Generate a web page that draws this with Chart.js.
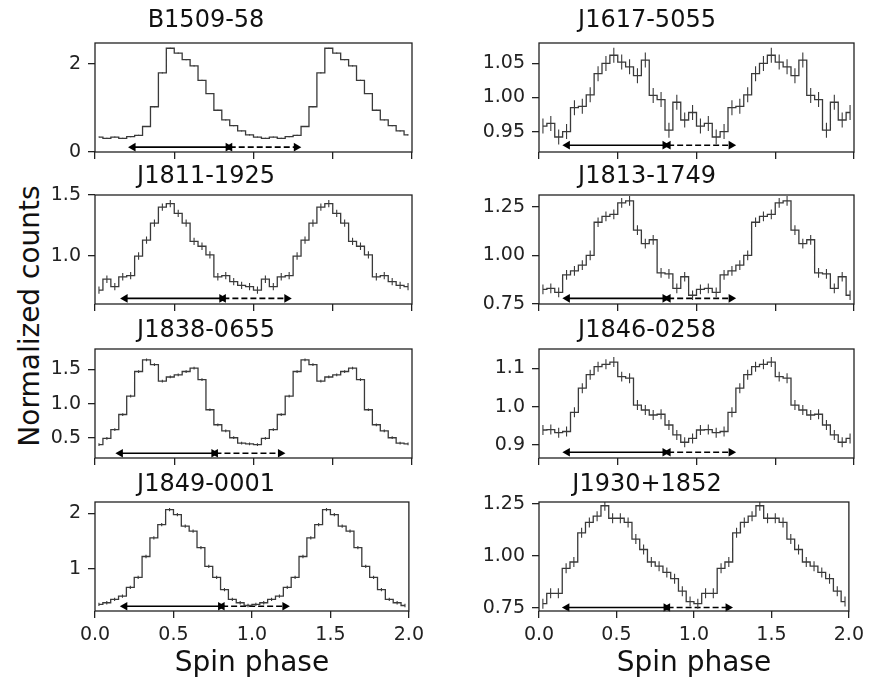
<!DOCTYPE html>
<html>
<head>
<meta charset="utf-8">
<script src="https://cdn.jsdelivr.net/npm/chart.js"></script>
<style>
body { margin: 0; background: #fff; }
#fig { position: relative; width: 874px; height: 684px; font-family: "DejaVu Sans"; }
.panel { position: absolute; }
#ylab { position: absolute; left: 29.5px; top: 316px; font-size: 28px; line-height: 28px; white-space: nowrap; color: #111;
        transform: translate(-50%, -50%) rotate(-90deg); }
</style>
</head>
<body>
<div id="fig">
  <div id="ylab">Normalized counts</div>
  <div class="panel" style="left:0;top:0;width:430px;height:172px"><canvas id="p0"></canvas></div>
  <div class="panel" style="left:440px;top:0;width:430px;height:172px"><canvas id="p1"></canvas></div>
  <div class="panel" style="left:0;top:152px;width:430px;height:172px"><canvas id="p2"></canvas></div>
  <div class="panel" style="left:440px;top:152px;width:430px;height:172px"><canvas id="p3"></canvas></div>
  <div class="panel" style="left:0;top:306px;width:430px;height:172px"><canvas id="p4"></canvas></div>
  <div class="panel" style="left:440px;top:306px;width:430px;height:172px"><canvas id="p5"></canvas></div>
  <div class="panel" style="left:0;top:459px;width:430px;height:225px"><canvas id="p6"></canvas></div>
  <div class="panel" style="left:440px;top:459px;width:430px;height:225px"><canvas id="p7"></canvas></div>
</div>
<script>
// pulsar names, one panel each
var names = ['B1509-58', 'J1617-5055', 'J1811-1925', 'J1813-1749',
             'J1838-0655', 'J1846-0258', 'J1849-0001', 'J1930+1852'];

// bin centres of one cycle (20 bins), shown twice
var phase = [0.025, 0.075, 0.125, 0.175, 0.225, 0.275, 0.325, 0.375, 0.425, 0.475,
             0.525, 0.575, 0.625, 0.675, 0.725, 0.775, 0.825, 0.875, 0.925, 0.975];

// normalized counts per bin
var profB1509 = [0.34, 0.31, 0.34, 0.31, 0.35, 0.38, 0.58, 1.03, 1.80, 2.36,
                 2.25, 2.10, 1.96, 1.63, 1.33, 0.95, 0.73, 0.60, 0.48, 0.39];
var profJ1617 = [0.958, 0.962, 0.942, 0.950, 0.985, 0.987, 1.004, 1.035, 1.050, 1.062,
                 1.052, 1.045, 1.032, 1.055, 1.003, 0.997, 0.952, 0.993, 0.967, 0.978];
var profJ1811 = [0.72, 0.81, 0.75, 0.83, 0.84, 1.00, 1.13, 1.27, 1.40, 1.43,
                 1.35, 1.27, 1.12, 1.08, 1.01, 0.83, 0.84, 0.79, 0.76, 0.75];
var profJ1813 = [0.825, 0.83, 0.81, 0.90, 0.92, 0.95, 1.00, 1.17, 1.20, 1.21,
                 1.27, 1.28, 1.13, 1.06, 1.08, 0.91, 0.905, 0.83, 0.89, 0.795];
var profJ1838 = [0.40, 0.49, 0.62, 0.84, 1.11, 1.47, 1.64, 1.57, 1.33, 1.39,
                 1.42, 1.47, 1.52, 1.35, 0.91, 0.69, 0.60, 0.50, 0.42, 0.41];
var profJ1846 = [0.939, 0.940, 0.932, 0.935, 0.985, 1.048, 1.083, 1.104, 1.110, 1.116,
                 1.078, 1.074, 1.004, 0.991, 0.978, 0.980, 0.952, 0.926, 0.907, 0.917];
var profJ1849 = [0.35, 0.38, 0.44, 0.50, 0.66, 0.84, 1.22, 1.56, 1.80, 2.07,
                 1.98, 1.77, 1.68, 1.38, 1.04, 0.84, 0.62, 0.44, 0.38, 0.33];
var profJ1930 = [0.77, 0.82, 0.82, 0.94, 0.97, 1.11, 1.16, 1.19, 1.24, 1.18,
                 1.18, 1.16, 1.08, 1.03, 0.97, 0.95, 0.92, 0.89, 0.83, 0.78];
var profiles = [profB1509, profJ1617, profJ1811, profJ1813, profJ1838, profJ1846, profJ1849, profJ1930];

// 1-sigma error per bin, per pulsar
var errs = [0.012, 0.011, 0.03, 0.025, 0.02, 0.013, 0.03, 0.024];

// axis ranges and ticks
var yMin = [0, 0.92, 0.607, 0.75, 0.203, 0.866, 0.23, 0.735];
var yMax = [2.48, 1.08, 1.5, 1.31, 1.80, 1.15, 2.21, 1.258];
var yTicks = [[0, 2], [0.95, 1.00, 1.05], [1.0, 1.5], [0.75, 1.00, 1.25],
              [0.5, 1.0, 1.5], [0.9, 1.0, 1.1], [1, 2], [0.75, 1.00, 1.25]];
var yDec = [0, 2, 1, 2, 1, 1, 0, 2];
var xTicks = [0, 0.5, 1.0, 1.5, 2.0];

// on-pulse (solid) and off-pulse (dashed) phase ranges
var onPulse  = [[0.24, 0.84], [0.18, 0.80], [0.19, 0.80], [0.18, 0.80],
                [0.16, 0.75], [0.18, 0.80], [0.19, 0.80], [0.18, 0.82]];
var offPulse = [[0.85, 1.27], [0.82, 1.22], [0.81, 1.21], [0.82, 1.22],
                [0.76, 1.17], [0.82, 1.22], [0.81, 1.21], [0.83, 1.22]];
var arrowY = [0.11, 0.930, 0.653, 0.779, 0.272, 0.881, 0.316, 0.752];

var FONT = 'DejaVu Sans';
var titleCentre = [21, 177, 331, 485];
var canvasTop = [0, 152, 306, 459];

var frame = {
    id: 'frame',
    afterDatasetsDraw: function(chart) {
        var a = chart.chartArea, ctx = chart.ctx;
        ctx.save();
        ctx.strokeStyle = '#222';
        ctx.lineWidth = 1.3;
        ctx.strokeRect(a.left, a.top, a.right - a.left, a.bottom - a.top);
        ctx.restore();
    }
};

function makePanel(i) {
    var row = Math.floor(i / 2), col = i % 2;
    var bottom = row === 3;
    var prof = profiles[i];
    var line = [], bars = [];
    for (var c = 0; c < 2; c++) {
        for (var k = 0; k < phase.length; k++) {
            var x = phase[k] + c;
            line.push({x: x, y: prof[k]});
            bars.push({x: x, y: prof[k] - errs[i]}, {x: x, y: prof[k] + errs[i]}, {x: x, y: null});
        }
    }
    var padTop = titleCentre[row] - canvasTop[row] - 14.4;
    var grid = {drawOnChartArea: false, drawTicks: true, tickLength: 7, color: '#222', lineWidth: 1.3};

    return new Chart(document.getElementById('p' + i), {
        type: 'line',
        data: {
            datasets: [{
                data: line,
                stepped: 'middle',
                borderColor: '#3a3a3a',
                borderWidth: 1.3,
                pointRadius: 0,
                fill: false
            }, {
                data: bars,
                borderColor: '#3a3a3a',
                borderWidth: 1.1,
                pointRadius: 0,
                spanGaps: false
            }, {
                data: [{x: onPulse[i][0], y: arrowY[i]}, {x: onPulse[i][1], y: arrowY[i]}],
                borderColor: '#000',
                borderWidth: 1.6,
                pointStyle: 'triangle',
                pointRadius: 5,
                pointBorderWidth: 0,
                pointBackgroundColor: '#000',
                pointRotation: [270, 90],
                clip: false
            }, {
                data: [{x: offPulse[i][0], y: arrowY[i]}, {x: offPulse[i][1], y: arrowY[i]}],
                borderColor: '#000',
                borderWidth: 1.6,
                borderDash: [6, 3],
                pointStyle: 'triangle',
                pointRadius: 5,
                pointBorderWidth: 0,
                pointBackgroundColor: '#000',
                pointRotation: [270, 90],
                clip: false
            }]
        },
        options: {
            responsive: true,
            maintainAspectRatio: false,
            animation: false,
            events: [],
            layout: {padding: {left: 0, right: col === 0 ? 18 : 16, top: 0, bottom: 0}},
            plugins: {
                legend: {display: false},
                tooltip: {enabled: false},
                title: {
                    display: true,
                    text: names[i],
                    color: '#111',
                    font: {family: FONT, size: 24, weight: 'normal', lineHeight: 1.2},
                    padding: {top: padTop, bottom: 43 - 28.8 - padTop}
                }
            },
            scales: {
                x: {
                    type: 'linear',
                    min: 0,
                    max: 2,
                    afterBuildTicks: function(s) { s.ticks = xTicks.map(function(v) { return {value: v}; }); },
                    afterFit: function(s) { s.height = bottom ? 73 : 20; },
                    grid: grid,
                    border: {display: false},
                    ticks: {
                        padding: 6,
                        color: '#222',
                        maxRotation: 0,
                        autoSkip: false,
                        font: {family: FONT, size: 19},
                        callback: function(v) { return bottom ? v.toFixed(1) : ''; }
                    },
                    title: {
                        display: bottom,
                        text: 'Spin phase',
                        color: '#111',
                        font: {family: FONT, size: 28},
                        padding: {top: 0, bottom: 3}
                    }
                },
                y: {
                    min: yMin[i],
                    max: yMax[i],
                    afterBuildTicks: function(s) { s.ticks = yTicks[i].map(function(v) { return {value: v}; }); },
                    afterFit: function(s) { s.width = col === 0 ? 95 : 99; },
                    grid: grid,
                    border: {display: false},
                    ticks: {
                        padding: 7,
                        color: '#222',
                        font: {family: FONT, size: 19},
                        callback: function(v) { return v.toFixed(yDec[i]); }
                    }
                }
            }
        },
        plugins: [frame]
    });
}

for (var i = 0; i < names.length; i++) makePanel(i);
</script>
</body>
</html>
